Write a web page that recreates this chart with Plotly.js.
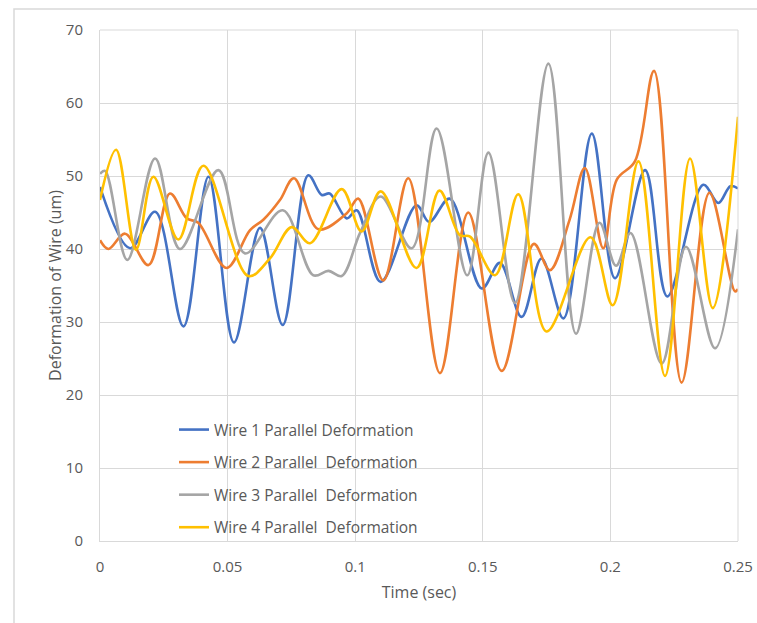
<!DOCTYPE html>
<html>
<head>
<meta charset="utf-8">
<script src="https://cdn.plot.ly/plotly-3.0.1.min.js"></script>
<style>html,body{margin:0;padding:0;background:#fff;}#chart{width:757px;height:623px;}</style>
</head>
<body>
<div id="chart"></div>
<script>
// Series names
const seriesNames = [
  "Wire 1 Parallel Deformation",
  "Wire 2 Parallel\u00a0 Deformation",
  "Wire 3 Parallel\u00a0 Deformation",
  "Wire 4 Parallel\u00a0 Deformation"
];

// Wire 1 (time in s, deformation in um)
const wire1Time = [0, 0.0118, 0.0216, 0.0327, 0.0425, 0.0525, 0.0627, 0.0716, 0.0816, 0.0869, 0.0900, 0.0967, 0.1006, 0.1100, 0.1240, 0.1290, 0.1370, 0.1496, 0.1567, 0.1652, 0.1730, 0.1816, 0.1927, 0.2018, 0.2136, 0.2223, 0.2364, 0.2423, 0.2470, 0.25];
const wire1Def  = [48.5, 40.1, 45.1, 29.4, 49.9, 27.2, 42.9, 29.6, 50.1, 47.4, 47.6, 44.2, 45.3, 35.5, 46.0, 43.7, 46.9, 34.6, 38.1, 30.7, 38.7, 30.5, 55.8, 36.0, 50.8, 33.5, 48.8, 46.3, 48.6, 48.3];

// Wire 2
const wire2Time = [0, 0.0033, 0.0098, 0.0190, 0.0274, 0.0340, 0.0385, 0.0496, 0.0588, 0.0640, 0.0705, 0.0760, 0.0856, 0.0967, 0.1012, 0.1110, 0.1208, 0.1332, 0.1443, 0.1574, 0.1700, 0.1763, 0.1840, 0.1900, 0.1972, 0.2025, 0.2096, 0.2171, 0.2279, 0.2388, 0.2488, 0.25];
const wire2Def  = [41.2, 40.0, 42.1, 37.8, 47.6, 44.2, 43.6, 37.4, 42.6, 44.0, 46.7, 49.7, 42.7, 44.9, 46.9, 35.7, 49.7, 23.0, 45.0, 23.3, 40.7, 37.1, 44.0, 51.1, 40.1, 49.5, 52.0, 64.4, 21.7, 47.7, 34.2, 34.5];

// Wire 3
const wire3Time = [0, 0.0020, 0.0107, 0.0216, 0.0313, 0.0464, 0.0568, 0.0716, 0.0836, 0.0895, 0.0947, 0.1019, 0.1100, 0.1221, 0.1319, 0.1439, 0.1522, 0.1626, 0.1757, 0.1865, 0.1957, 0.2022, 0.2079, 0.2201, 0.2296, 0.2410, 0.25];
const wire3Def  = [50.3, 50.7, 38.5, 52.4, 40.0, 50.8, 39.4, 45.3, 36.4, 37.0, 36.3, 42.2, 47.2, 40.1, 56.5, 36.4, 53.2, 32.6, 65.4, 28.4, 43.6, 37.7, 42.2, 24.3, 40.3, 26.4, 42.7];

// Wire 4
const wire4Time = [0, 0.0063, 0.0141, 0.0209, 0.0307, 0.0405, 0.0581, 0.0666, 0.0751, 0.0823, 0.0947, 0.1025, 0.1100, 0.1240, 0.1330, 0.1410, 0.1450, 0.1548, 0.1639, 0.1750, 0.1922, 0.2009, 0.2110, 0.2214, 0.2312, 0.2401, 0.25];
const wire4Def  = [46.7, 53.6, 39.9, 49.9, 41.3, 51.4, 36.3, 38.7, 43.0, 40.8, 48.2, 42.4, 47.9, 37.4, 48.0, 41.9, 41.7, 36.4, 47.5, 28.7, 41.6, 32.3, 52.0, 22.6, 52.4, 31.9, 58.1];

const xTicks = [0, 0.05, 0.1, 0.15, 0.2, 0.25];
const xTickLabels = ["0", "0.05", "0.1", "0.15", "0.2", "0.25"];
const yTicks = [0, 10, 20, 30, 40, 50, 60, 70];

const colors = ["#4472C4", "#ED7D31", "#A5A5A5", "#FFC000"];
const times = [wire1Time, wire2Time, wire3Time, wire4Time];
const defs = [wire1Def, wire2Def, wire3Def, wire4Def];

const traces = seriesNames.map((name, i) => ({
  type: "scatter",
  mode: "lines",
  name: name,
  x: times[i],
  y: defs[i],
  legendgroup: "g" + i,
  line: {color: colors[i], width: 2.6, shape: "spline", smoothing: 1},
  hoverinfo: "skip"
}));

const textColor = "#595959";
const fontFam = "'Open Sans', 'Noto Sans', sans-serif";

const layout = {
  width: 757,
  height: 623,
  margin: {l: 100, r: 19, t: 30, b: 82, pad: 0},
  paper_bgcolor: "#ffffff",
  plot_bgcolor: "#ffffff",
  font: {family: fontFam, color: textColor, size: 15},
  showlegend: true,
  legend: {
    x: 0.116, y: 0.2505, xanchor: "left", yanchor: "top",
    bgcolor: "rgba(0,0,0,0)",
    font: {family: fontFam, size: 15.5, color: textColor},
    tracegroupgap: 9.4,
    itemwidth: 30
  },
  xaxis: {
    range: [0, 0.25],
    tickvals: xTicks,
    ticktext: xTickLabels,
    showgrid: true,
    gridcolor: "#d9d9d9",
    gridwidth: 1,
    showline: true,
    linecolor: "#d9d9d9",
    linewidth: 1,
    mirror: false,
    zeroline: false,
    ticks: "",
    ticklabelstandoff: 12,
    tickfont: {family: fontFam, size: 15, color: textColor},
    title: {text: "Time (sec)", font: {family: fontFam, size: 16, color: textColor}, standoff: 11}
  },
  yaxis: {
    range: [0, 70],
    tickvals: yTicks,
    showgrid: true,
    gridcolor: "#d9d9d9",
    gridwidth: 1,
    showline: true,
    linecolor: "#d9d9d9",
    linewidth: 1,
    zeroline: false,
    ticks: "",
    ticklabelstandoff: 13,
    tickfont: {family: fontFam, size: 15, color: textColor},
    title: {text: "Deformation of Wire (um)", font: {family: fontFam, size: 16, color: textColor}, standoff: 0}
  },
  shapes: [
    {type: "line", xref: "paper", yref: "paper", x0: 1, x1: 1, y0: 0, y1: 1, line: {color: "#d9d9d9", width: 1}},
    {type: "line", xref: "paper", yref: "paper", x0: 0, x1: 1, y0: 1, y1: 1, line: {color: "#d9d9d9", width: 1}},
    {type: "rect", xref: "paper", yref: "paper", x0: -0.1348, x1: 1.1, y0: -0.3, y1: 1.041, line: {color: "#d9d9d9", width: 1.5}, fillcolor: "rgba(0,0,0,0)", layer: "below"}
  ]
};

Plotly.newPlot("chart", traces, layout, {staticPlot: true, displayModeBar: false});
</script>
</body>
</html>
